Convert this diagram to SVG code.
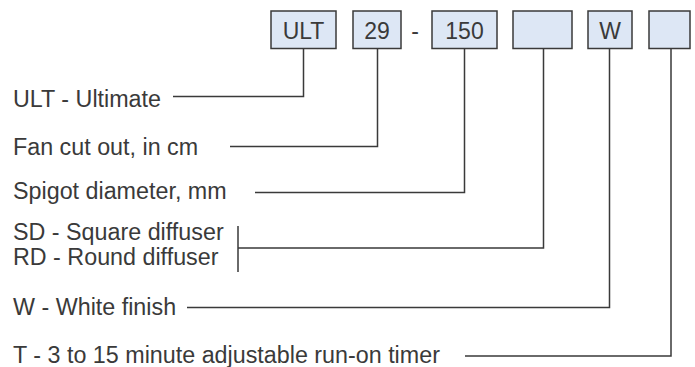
<svg xmlns="http://www.w3.org/2000/svg" width="695" height="367" viewBox="0 0 695 367">
<style>
.box{fill:#dde7f5;stroke:#3a3a3a;stroke-width:1.5}
.bt{font-family:"Liberation Sans",Arial,sans-serif;font-size:23px;fill:#3a3a3a;text-anchor:middle}
.lbl{font-family:"Liberation Sans",Arial,sans-serif;font-size:23.3px;fill:#3a3a3a}
.ln{fill:none;stroke:#3a3a3a;stroke-width:1.5}
</style>
<rect width="695" height="367" fill="#ffffff"/>
<g id="code">
<g id="box-ult"><rect class="box" x="271" y="11" width="65" height="37.5"/><text class="bt" x="303.5" y="38.5">ULT</text></g>
<g id="box-29"><rect class="box" x="353" y="11" width="48" height="37.5"/><text class="bt" x="377" y="38.5">29</text></g>
<g id="dash"><text class="bt" x="415" y="38.5">-</text></g>
<g id="box-150"><rect class="box" x="432" y="11" width="65" height="37.5"/><text class="bt" x="464.5" y="38.5">150</text></g>
<g id="box-diffuser"><rect class="box" x="513" y="11" width="59" height="37.5"/></g>
<g id="box-w"><rect class="box" x="588" y="11" width="44" height="37.5"/><text class="bt" x="610" y="38.5">W</text></g>
<g id="box-timer"><rect class="box" x="649" y="11" width="41" height="37.5"/></g>
</g>
<g id="labels">
<g id="lbl-ult"><text class="lbl" x="13" y="106.5">ULT - Ultimate</text></g>
<g id="lbl-fan"><text class="lbl" x="13" y="155">Fan cut out, in cm</text></g>
<g id="lbl-spigot"><text class="lbl" x="13" y="198.5">Spigot diameter, mm</text></g>
<g id="lbl-diffuser"><text class="lbl" x="13" y="240">SD - Square diffuser</text><text class="lbl" x="13" y="265">RD - Round diffuser</text></g>
<g id="lbl-w"><text class="lbl" x="13" y="315">W - White finish</text></g>
<g id="lbl-timer"><text class="lbl" x="13" y="362.5">T - 3 to 15 minute adjustable run-on timer</text></g>
</g>
<g id="connectors">
<path class="ln" d="M173 96.5H303.5V48.5"/>
<path class="ln" d="M230 146.5H377.5V48.5"/>
<path class="ln" d="M255 192.5H464.5V48.5"/>
<path class="ln" d="M238 226V272M238 248H543.5V48.5"/>
<path class="ln" d="M187 307.5H609.5V48.5"/>
<path class="ln" d="M465 356H671V48.5"/>
</g>
</svg>
